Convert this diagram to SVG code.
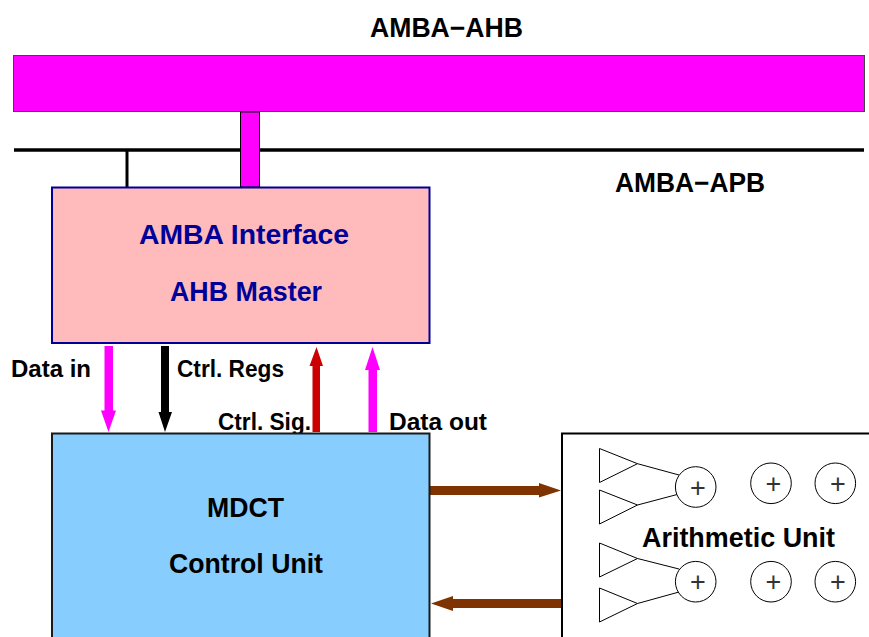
<svg xmlns="http://www.w3.org/2000/svg" width="869" height="637" viewBox="0 0 869 637">
<defs><style>
text{font-family:"Liberation Sans","DejaVu Sans",sans-serif;font-weight:700;fill:#000}
.t{font-size:27px}
.s{font-size:24px}
.n{fill:#000099}
.p{font-weight:400;font-size:27px;text-anchor:middle;fill:#333}
.tri{fill:#fff;stroke:#000;stroke-width:1}
.add{fill:#fff;stroke:#000;stroke-width:1}
.w{fill:none;stroke:#000;stroke-width:1}
</style></defs>
<rect width="869" height="637" fill="#fff"/>
<g id="apb-bus"><line x1="14" y1="150" x2="864" y2="150" stroke="#000" stroke-width="3.500"/><text class="t" x="615" y="192" textLength="150" lengthAdjust="spacingAndGlyphs">AMBA−APB</text></g>
<g id="ahb-bus"><rect x="13.500" y="55.500" width="851" height="56" fill="#ff00ff" stroke="#444" stroke-width="1"/><text class="t" x="370" y="37" textLength="153" lengthAdjust="spacingAndGlyphs">AMBA−AHB</text></g>
<g id="connectors">
<line x1="127" y1="151" x2="127" y2="187" stroke="#000" stroke-width="3"/>
<rect x="240.500" y="112" width="19" height="75" fill="#ff00ff" stroke="#000" stroke-width="1"/>
<path d="M104.500 346H113V410.500H116L108.500 432L101 410.500H104.500Z" fill="#ff00ff"/>
<path d="M161 346H169V412H172L165 432L158.500 412H161Z" fill="#000"/>
<path d="M312.500 432V366H309.500L316.500 347L323 366H320V432Z" fill="#cc0000"/>
<path d="M368.500 432V370H365L372.500 347L380 370H377V432Z" fill="#ff00ff"/>
<path d="M430 486H539V483L561 490.500L539 497.500V495H430Z" fill="#7f3300"/>
<path d="M562 599H453V596L431 603.500L453 611V608H562Z" fill="#7f3300"/>
</g>
<g id="amba-interface"><rect x="52" y="187.500" width="377.500" height="155.500" fill="#ffbbbb" stroke="#000099" stroke-width="2"/>
<text class="t n" x="139" y="243.500" textLength="210" lengthAdjust="spacingAndGlyphs">AMBA Interface</text>
<text class="t n" x="170" y="300.500" textLength="152" lengthAdjust="spacingAndGlyphs">AHB Master</text></g>
<g id="label-data-in"><text class="s" x="11" y="377" textLength="80" lengthAdjust="spacingAndGlyphs">Data in</text></g>
<g id="label-ctrl-regs"><text class="s" x="177" y="377" textLength="107" lengthAdjust="spacingAndGlyphs">Ctrl. Regs</text></g>
<g id="label-ctrl-sig"><text class="s" x="218" y="430" textLength="93" lengthAdjust="spacingAndGlyphs">Ctrl. Sig.</text></g>
<g id="label-data-out"><text class="s" x="389" y="430" textLength="98" lengthAdjust="spacingAndGlyphs">Data out</text></g>
<g id="mdct-control"><rect x="52" y="433.500" width="377.500" height="210" fill="#87ceff" stroke="#1a1a1a" stroke-width="2"/>
<text class="t" x="207" y="517" textLength="77" lengthAdjust="spacingAndGlyphs">MDCT</text>
<text class="t" x="169" y="573" textLength="154" lengthAdjust="spacingAndGlyphs">Control Unit</text></g>
<g id="arithmetic-unit"><rect x="562" y="433.500" width="320" height="210" fill="#fff" stroke="#000" stroke-width="2"/>
<path class="tri" d="M599.500 448.500V482.500L637.500 463.700Z"/>
<path class="tri" d="M599.500 490V524L637.500 505Z"/>
<path class="tri" d="M599.500 543V577L637.500 558.500Z"/>
<path class="tri" d="M599.500 588V622L637.500 603.500Z"/>
<path class="w" d="M637.500 463.700L679 475M637.500 505L679 494M637.500 558.500L679 569M637.500 603.500L679 592"/>
<circle class="add" cx="695.700" cy="487" r="20.300"/><text class="p" x="698" y="496.500">+</text>
<circle class="add" cx="771" cy="483.300" r="20.300"/><text class="p" x="773.500" y="492.500">+</text>
<circle class="add" cx="835.300" cy="483.300" r="20.300"/><text class="p" x="838" y="492.500">+</text>
<circle class="add" cx="695.700" cy="581.700" r="20.300"/><text class="p" x="698" y="590.500">+</text>
<circle class="add" cx="771" cy="581.700" r="20.300"/><text class="p" x="773.500" y="590.500">+</text>
<circle class="add" cx="835.300" cy="581.700" r="20.300"/><text class="p" x="838" y="590.500">+</text>
<text class="t" x="642" y="546.500" textLength="193" lengthAdjust="spacingAndGlyphs">Arithmetic Unit</text></g>
</svg>
